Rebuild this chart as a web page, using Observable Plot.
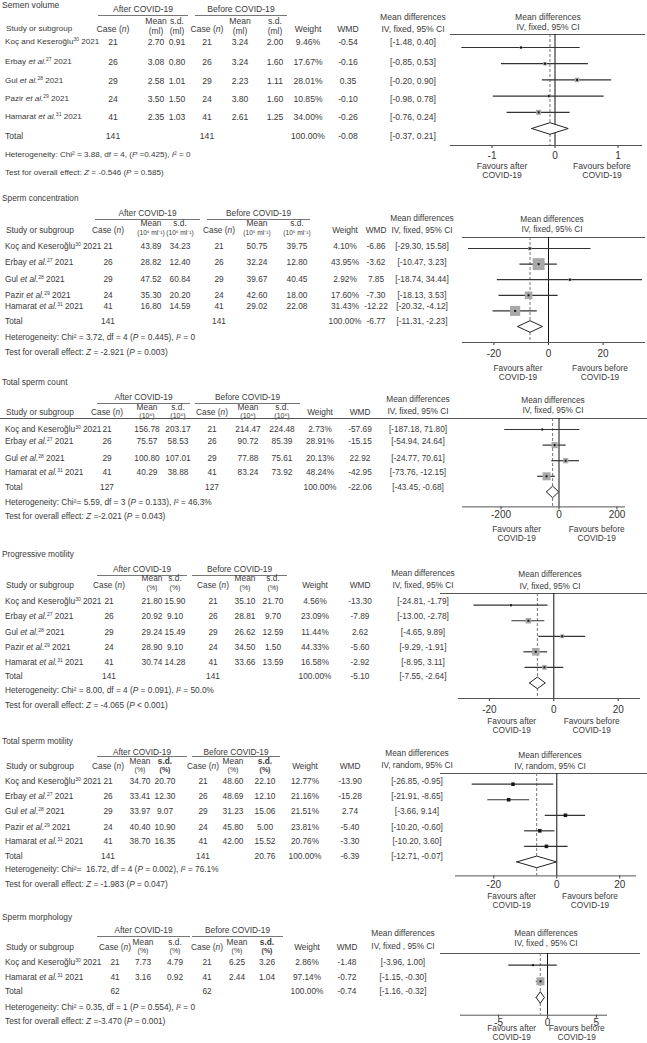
<!DOCTYPE html>
<html><head><meta charset="utf-8">
<script src="https://cdn.jsdelivr.net/npm/d3@7"></script>
<script src="https://cdn.jsdelivr.net/npm/@observablehq/plot@0.6"></script>
<style>
body{margin:0;background:#fff;}
#root{position:relative;width:647px;height:1043px;overflow:hidden;font-family:"Liberation Sans",Arial,sans-serif;font-size:8.3px;color:#3a3a3a;background:#fff;}
.t{position:absolute;white-space:nowrap;line-height:1;}
.hl{position:absolute;height:0;border-top:1px solid #777;}
.sp{font-size:5px;position:relative;top:-3px;}
.pw{position:absolute;left:440px;}
</style></head><body><div id="root"></div>
<script>
// ---------- data ----------
const studyNames = ["Koç and Keseroğlu", "Erbay", "Gul", "Pazir", "Hamarat"];
const studyEtAl = [false, true, true, true, true];
const studyRefs = [30, 27, 28, 29, 31];
const studyYear = 2021;

const sectionTitles = ["Semen volume", "Sperm concentration", "Total sperm count", "Progressive motility", "Total sperm motility", "Sperm morphology"];
const sectionUnits = ["(ml)", "(10⁶ ml⁻¹)", "(10⁶)", "(%)", "(%)", "(%)"];
const sectionMethods = ["IV, fixed, 95% CI", "IV, fixed, 95% CI", "IV, fixed, 95% CI", "IV, fixed, 95% CI", "IV, random, 95% CI", "IV, fixed , 95% CI"];
const heterogeneityText = [
  "Heterogeneity: Chi² = 3.88, df = 4, (<i>P</i> =0.425), <i>I</i>² = 0",
  "Heterogeneity: Chi² = 3.72, df = 4 (<i>P</i> = 0.445), <i>I</i>² = 0",
  "Heterogeneity: Chi²= 5.59, df = 3 (<i>P</i> = 0.133), <i>I</i>² = 46.3%",
  "Heterogeneity: Chi² = 8.00, df = 4 (<i>P</i> = 0.091), <i>I</i>² = 50.0%",
  "Heterogeneity: Chi²= &nbsp;16.72, df = 4 (<i>P</i> = 0.002), <i>I</i>² = 76.1%",
  "Heterogeneity: Chi² = 0.35, df = 1 (<i>P</i> = 0.554), <i>I</i>² = 0"
];
const overallEffectText = [
  "Test for overall effect: <i>Z</i> = -0.546 (<i>P</i> = 0.585)",
  "Test for overall effect: <i>Z</i> = -2.921 (<i>P</i> = 0.003)",
  "Test for overall effect: <i>Z</i> =-2.021 (<i>P</i> = 0.043)",
  "Test for overall effect: <i>Z</i> = -4.065 (<i>P</i> &lt; 0.001)",
  "Test for overall effect: <i>Z</i> = -1.983 (<i>P</i> = 0.047)",
  "Test for overall effect: <i>Z</i> =-3.470 (<i>P</i> = 0.001)"
];
const axisTicks = [[-1, 0, 1], [-20, 0, 20], [-200, 0, 200], [-20, 0, 20], [-20, 0, 20], [-5, 0, 5]];

// 1 Semen volume
const volumeStudies = [0, 1, 2, 3, 4];
const volumeAfter = [[21, 2.70, 0.91], [26, 3.08, 0.80], [29, 2.58, 1.01], [24, 3.50, 1.50], [41, 2.35, 1.03]];
const volumeBefore = [[21, 3.24, 2.00], [26, 3.24, 1.60], [29, 2.23, 1.11], [24, 3.80, 1.60], [41, 2.61, 1.25]];
const volumeWeight = [9.46, 17.67, 28.01, 10.85, 34.00];
const volumeWMD = [-0.54, -0.16, 0.35, -0.10, -0.26];
const volumeCI = [[-1.48, 0.40], [-0.85, 0.53], [-0.20, 0.90], [-0.98, 0.78], [-0.76, 0.24]];
const volumeTotal = [141, 141, -0.08, -0.37, 0.21];

// 2 Sperm concentration
const concStudies = [0, 1, 2, 3, 4];
const concAfter = [[21, 43.89, 34.23], [26, 28.82, 12.40], [29, 47.52, 60.84], [24, 35.30, 20.20], [41, 16.80, 14.59]];
const concBefore = [[21, 50.75, 39.75], [26, 32.24, 12.80], [29, 39.67, 40.45], [24, 42.60, 18.00], [41, 29.02, 22.08]];
const concWeight = [4.10, 43.95, 2.92, 17.60, 31.43];
const concWMD = [-6.86, -3.62, 7.85, -7.30, -12.22];
const concCI = [[-29.30, 15.58], [-10.47, 3.23], [-18.74, 34.44], [-18.13, 3.53], [-20.32, -4.12]];
const concTotal = [141, 141, -6.77, -11.31, -2.23];

// 3 Total sperm count
const countStudies = [0, 1, 2, 4];
const countAfter = [[21, 156.78, 203.17], [26, 75.57, 58.53], [29, 100.80, 107.01], [41, 40.29, 38.88]];
const countBefore = [[21, 214.47, 224.48], [26, 90.72, 85.39], [29, 77.88, 75.61], [41, 83.24, 73.92]];
const countWeight = [2.73, 28.91, 20.13, 48.24];
const countWMD = [-57.69, -15.15, 22.92, -42.95];
const countCI = [[-187.18, 71.80], [-54.94, 24.64], [-24.77, 70.61], [-73.76, -12.15]];
const countTotal = [127, 127, -22.06, -43.45, -0.68];

// 4 Progressive motility
const progStudies = [0, 1, 2, 3, 4];
const progAfter = [[21, 21.80, 15.90], [26, 20.92, 9.10], [29, 29.24, 15.49], [24, 28.90, 9.10], [41, 30.74, 14.28]];
const progBefore = [[21, 35.10, 21.70], [26, 28.81, 9.70], [29, 26.62, 12.59], [24, 34.50, 1.50], [41, 33.66, 13.59]];
const progWeight = [4.56, 23.09, 11.44, 44.33, 16.58];
const progWMD = [-13.30, -7.89, 2.62, -5.60, -2.92];
const progCI = [[-24.81, -1.79], [-13.00, -2.78], [-4.65, 9.89], [-9.29, -1.91], [-8.95, 3.11]];
const progTotal = [141, 141, -5.10, -7.55, -2.64];

// 5 Total sperm motility
const motStudies = [0, 1, 2, 3, 4];
const motAfter = [[21, 34.70, 20.70], [26, 33.41, 12.30], [29, 33.97, 9.07], [24, 40.40, 10.90], [41, 38.70, 16.35]];
const motBefore = [[21, 48.60, 22.10], [26, 48.69, 12.10], [29, 31.23, 15.06], [24, 45.80, 5.00], [41, 42.00, 15.52]];
const motWeight = [12.77, 21.16, 21.51, 23.81, 20.76];
const motWMD = [-13.90, -15.28, 2.74, -5.40, -3.30];
const motCI = [[-26.85, -0.95], [-21.91, -8.65], [-3.66, 9.14], [-10.20, -0.60], [-10.20, 3.60]];
const motTotal = [141, 141, -6.39, -12.71, -0.07];
const motTotalSdBefore = 20.76;

// 6 Sperm morphology
const morphStudies = [0, 4];
const morphAfter = [[21, 7.73, 4.79], [41, 3.16, 0.92]];
const morphBefore = [[21, 6.25, 3.26], [41, 2.44, 1.04]];
const morphWeight = [2.86, 97.14];
const morphWMD = [-1.48, -0.72];
const morphCI = [[-3.96, 1.00], [-1.15, -0.30]];
const morphTotal = [62, 62, -0.74, -1.16, -0.32];

// ---------- layout (page pixels) ----------
const layouts = [
 {font:8.6, nameFont:8.1, unitFont:8.3, titleY:5, groupY:9, groupLineY:15, h1Y:21, h2Y:31, hY:29, mdH1:17, mdH2:29,
  rowsY:[42,62.3,80.7,99,117.3], totalY:135.7, hetY:155, testY:173,
  cols:{caseA:113, meanA:156, sdA:177, caseB:207, meanB:240, sdB:275, weight:308, wmd:348, ci:413},
  grpA:[98,188], grpB:[195,287], topLine:{y:34,x0:450,x1:645}, axis:{y:145,x0:450,x1:642},
  plotRowY:[47,128], zero:554.5, ppu:63, side100:8.6, tp:3.5, sdBold:[false,false],
  mdHead:{x:548,y1:17,y2:27}, fav:{y1:165.5,y2:174.5,xa:502,xb:602}},
 {font:8.3, nameFont:8.3, unitFont:6.6, titleY:198, groupY:213, groupLineY:219, h1Y:223, h2Y:233, hY:230, mdH1:217.7, mdH2:230,
  rowsY:[246,262.3,278.7,295,306], totalY:321.3, hetY:336.7, testY:352.3,
  cols:{caseA:108, meanA:151, sdA:180, caseB:219, meanB:257, sdB:297, weight:345, wmd:376, ci:422},
  grpA:[95,200], grpB:[207,310], topLine:{y:236.7,x0:462,x1:645}, axis:{y:341.7,x0:462,x1:645},
  plotRowY:[247.7,325.7], zero:548, ppu:2.73, side100:18, tp:4, sdBold:[false,false],
  mdHead:{x:552,y1:219.3,y2:229.3}, fav:{y1:368,y2:377,xa:518,xb:600}},
 {font:8.3, nameFont:8.3, unitFont:7, titleY:382.3, groupY:397.3, groupLineY:402.7, h1Y:407, h2Y:415.3, hY:411.7, mdH1:399.3, mdH2:411,
  rowsY:[429,441,458,472], totalY:486.7, hetY:501.7, testY:515.7,
  cols:{caseA:107, meanA:147, sdA:178, caseB:212, meanB:248, sdB:282, weight:320, wmd:360, ci:418},
  grpA:[97,190], grpB:[195,300], topLine:{y:418.3,x0:0,x1:647}, axis:{y:506.7,x0:462,x1:625},
  plotRowY:[429.3,491.7], zero:558.5, ppu:0.29, side100:11.5, tp:0.5, sdBold:[false,false],
  mdHead:{x:553,y1:400.3,y2:410}, fav:{y1:528.5,y2:537.5,xa:516.7,xb:596.7}},
 {font:8.3, nameFont:8.3, unitFont:7, titleY:554, groupY:569, groupLineY:575, h1Y:578.3, h2Y:586.7, hY:585, mdH1:573.3, mdH2:585,
  rowsY:[600.7,616,631.7,646.7,661.7], totalY:675.7, hetY:690, testY:705,
  cols:{caseA:109, meanA:152, sdA:175, caseB:213, meanB:245, sdB:273, weight:315, wmd:360, ci:423},
  grpA:[97,187], grpB:[192,287], topLine:{y:593.3,x0:440,x1:647}, axis:{y:698.3,x0:458,x1:640},
  plotRowY:[605,682.7], zero:553.3, ppu:3.22, side100:11.4, tp:4, sdBold:[false,false],
  mdHead:{x:550,y1:574,y2:585.7}, fav:{y1:720.5,y2:729.5,xa:511.7,xb:591.7}},
 {font:8.3, nameFont:8.3, unitFont:7, titleY:740.7, groupY:751.7, groupLineY:756, h1Y:760.5, h2Y:768.5, hY:766, mdH1:753.3, mdH2:765,
  rowsY:[781,796,811,826.7,841], totalY:855.7, hetY:869.3, testY:884,
  cols:{caseA:108, meanA:140, sdA:165, caseB:203, meanB:233, sdB:265, weight:305, wmd:350, ci:417},
  grpA:[97,187], grpB:[192,280], topLine:{y:773.3,x0:440,x1:647}, axis:{y:875.7,x0:455,x1:636},
  plotRowY:[784,861.7], zero:556.3, ppu:3.15, fixedSide:3.6, tp:2, sdBold:[true,true],
  mdHead:{x:550,y1:755,y2:765.7}, fav:{y1:896,y2:905,xa:511.7,xb:590}},
 {font:8.3, nameFont:8.3, unitFont:7, titleY:917.3, groupY:930, groupLineY:935.7, h1Y:941.7, h2Y:950, hY:946.7, mdH1:933.3, mdH2:946,
  rowsY:[961.7,976.7], totalY:991, hetY:1007.3, testY:1021,
  cols:{caseA:115, meanA:143, sdA:175, caseB:207, meanB:237, sdB:267, weight:307, wmd:347, ci:403},
  grpA:[97,190], grpB:[192,283], topLine:{y:953.3,x0:440,x1:640}, axis:{y:1015,x0:460,x1:607},
  plotRowY:[965,997.3], zero:547, ppu:9.77, side100:8.1, tp:0.5, sdBold:[false,true],
  mdHead:{x:546,y1:933.3,y2:943.3}, fav:{y1:1028,y2:1037,xa:511.7,xb:576.7}}
];

const sections = [
  {studies: volumeStudies, after: volumeAfter, before: volumeBefore, weight: volumeWeight, wmd: volumeWMD, ci: volumeCI, total: volumeTotal},
  {studies: concStudies, after: concAfter, before: concBefore, weight: concWeight, wmd: concWMD, ci: concCI, total: concTotal},
  {studies: countStudies, after: countAfter, before: countBefore, weight: countWeight, wmd: countWMD, ci: countCI, total: countTotal},
  {studies: progStudies, after: progAfter, before: progBefore, weight: progWeight, wmd: progWMD, ci: progCI, total: progTotal},
  {studies: motStudies, after: motAfter, before: motBefore, weight: motWeight, wmd: motWMD, ci: motCI, total: motTotal, random: true, totalSdBefore: motTotalSdBefore},
  {studies: morphStudies, after: morphAfter, before: morphBefore, weight: morphWeight, wmd: morphWMD, ci: morphCI, total: morphTotal}
];

// ---------- helpers ----------
const root = document.getElementById("root");
let curFont = 8.3;
function txt(x, y, html, align = "c", extra = "") {
  const d = document.createElement("div");
  d.className = "t";
  d.style.left = x + "px";
  d.style.top = y + "px";
  d.style.fontSize = curFont + "px";
  d.style.transform = align === "c" ? "translate(-50%,-50%)" : align === "l" ? "translate(0,-50%)" : "translate(-100%,-50%)";
  if (extra) d.style.cssText += extra;
  d.innerHTML = html;
  root.appendChild(d);
}
function hline(x0, x1, y, color = "#777") {
  const d = document.createElement("div");
  d.className = "hl";
  d.style.left = x0 + "px";
  d.style.width = (x1 - x0) + "px";
  d.style.top = Math.round(y) + "px";
  d.style.borderTopColor = color;
  root.appendChild(d);
}
const f2 = v => v.toFixed(2);
function studyLabel(i) {
  return studyNames[i] + (studyEtAl[i] ? " <i>et al.</i>" : "") + `<span class="sp">${studyRefs[i]}</span> ${studyYear}`;
}

function forest(S, L, k) {
  const n = S.wmd.length;
  const rows = S.wmd.map((e, i) => ({i, e, lo: S.ci[i][0], hi: S.ci[i][1], w: S.weight[i]}));
  const tot = {e: S.total[2], lo: S.total[3], hi: S.total[4]};
  const svgTop = L.topLine.y;
  const axisOff = L.axis.y - svgTop;
  const height = Math.ceil(axisOff + 20);
  const ml = L.axis.x0 - 440, mr = 647 - L.axis.x1;
  const xd = [(L.axis.x0 - L.zero) / L.ppu, (L.axis.x1 - L.zero) / L.ppu];
  const yr = [L.plotRowY[0] - svgTop, L.plotRowY[1] - svgTop];
  const sp = (yr[1] - yr[0]) / n;
  const hd = 5.8 / sp;
  const axisVal = n + (axisOff - yr[1]) / sp;
  const diamond = [{x: tot.lo, y: n}, {x: tot.e, y: n - hd}, {x: tot.hi, y: n}, {x: tot.e, y: n + hd}, {x: tot.lo, y: n}];
  const marks = [
    Plot.ruleX([tot.e], {stroke: "#666", strokeWidth: 0.9, strokeDasharray: "3,2"}),
    Plot.ruleX([0], {stroke: "#111", strokeWidth: 1}),
    Plot.ruleY([axisVal], {stroke: "#555", strokeWidth: 1}),
    Plot.ruleY(rows, {y: "i", x1: "lo", x2: "hi", stroke: "#333", strokeWidth: 1.2}),
    S.random
      ? Plot.dot(rows, {x: "e", y: "i", r: L.fixedSide / 1.7725, symbol: "square", fill: "#222"})
      : Plot.dot(rows, {x: "e", y: "i", r: "w", symbol: "square", fill: "#a8a8a8"}),
    Plot.dot(rows, {x: "e", y: "i", r: 1.1, symbol: "square", fill: "#111"}),
    Plot.line(diamond, {x: "x", y: "y", fill: "white", stroke: "#222", strokeWidth: 1, curve: "linear"})
  ];
  const opts = {
    width: 207, height,
    marginTop: 0, marginBottom: height - axisOff, marginLeft: ml, marginRight: mr,
    x: {domain: xd, ticks: axisTicks[k], tickSize: 3, tickPadding: L.tp, tickFormat: d => String(d), label: null},
    y: {domain: [0, n], range: yr, axis: null},
    style: {fontFamily: "Liberation Sans, Arial, sans-serif", fontSize: "10px", color: "#333", background: "transparent", overflow: "visible"},
    marks
  };
  if (!S.random) opts.r = {type: "sqrt", domain: [0, 100], range: [0, L.side100 / 1.7725]};
  const svg = Plot.plot(opts);
  const w = document.createElement("div");
  w.className = "pw";
  w.style.top = svgTop + "px";
  w.appendChild(svg);
  root.appendChild(w);
}

// ---------- render ----------
sections.forEach((S, k) => {
  const L = layouts[k], C = L.cols;
  curFont = L.font;
  txt(2, L.titleY, sectionTitles[k], "l");
  txt((L.grpA[0] + L.grpA[1]) / 2, L.groupY, "After COVID-19");
  txt((L.grpB[0] + L.grpB[1]) / 2, L.groupY, "Before COVID-19");
  hline(L.grpA[0], L.grpA[1], L.groupLineY);
  hline(L.grpB[0], L.grpB[1], L.groupLineY);
  txt(6, L.hY, "Study or subgroup", "l", `font-size:${L.nameFont}px;`);
  txt(C.caseA, L.hY, "Case (<i>n</i>)");
  txt(C.caseB, L.hY, "Case (<i>n</i>)");
  const uf = `font-size:${L.unitFont}px;`;
  txt(C.meanA, L.h1Y, "Mean"); txt(C.meanA, L.h2Y, sectionUnits[k], "c", uf);
  txt(C.meanB, L.h1Y, "Mean"); txt(C.meanB, L.h2Y, sectionUnits[k], "c", uf);
  const sdA = L.sdBold[0] ? "font-weight:bold;" : "", sdB = L.sdBold[1] ? "font-weight:bold;" : "";
  txt(C.sdA, L.h1Y, "s.d.", "c", sdA); txt(C.sdA, L.h2Y, sectionUnits[k], "c", sdA + uf);
  txt(C.sdB, L.h1Y, "s.d.", "c", sdB); txt(C.sdB, L.h2Y, sectionUnits[k], "c", sdB + uf);
  txt(C.weight, L.hY, "Weight");
  txt(C.wmd, L.hY, "WMD");
  txt(C.ci, L.mdH1, "Mean differences");
  txt(C.ci, L.mdH2, sectionMethods[k]);
  S.studies.forEach((s, i) => {
    const y = L.rowsY[i];
    txt(5, y, studyLabel(s), "l", `font-size:${L.nameFont}px;`);
    txt(C.caseA, y, S.after[i][0]);
    txt(C.meanA, y, f2(S.after[i][1]));
    txt(C.sdA, y, f2(S.after[i][2]));
    txt(C.caseB, y, S.before[i][0]);
    txt(C.meanB, y, f2(S.before[i][1]));
    txt(C.sdB, y, f2(S.before[i][2]));
    txt(C.weight, y, f2(S.weight[i]) + "%");
    txt(C.wmd, y, f2(S.wmd[i]));
    txt(C.ci, y, `[${f2(S.ci[i][0])}, ${f2(S.ci[i][1])}]`);
  });
  const ty = L.totalY;
  txt(5, ty, "Total", "l");
  txt(C.caseA, ty, S.total[0]);
  txt(C.caseB, ty, S.total[1]);
  if (S.totalSdBefore != null) txt(C.sdB, ty, f2(S.totalSdBefore));
  txt(C.weight, ty, "100.00%");
  txt(C.wmd, ty, f2(S.total[2]));
  txt(C.ci, ty, `[${f2(S.total[3])}, ${f2(S.total[4])}]`);
  txt(5, L.hetY, heterogeneityText[k], "l", `font-size:${L.nameFont}px;`);
  txt(5, L.testY, overallEffectText[k], "l", `font-size:${L.nameFont}px;`);
  // plot header & labels
  txt(L.mdHead.x, L.mdHead.y1, "Mean differences");
  txt(L.mdHead.x, L.mdHead.y2, sectionMethods[k]);
  hline(L.topLine.x0, L.topLine.x1, L.topLine.y, "#555");
  forest(S, L, k);
  txt(L.fav.xa, L.fav.y1, "Favours after");
  txt(L.fav.xa, L.fav.y2, "COVID-19");
  txt(L.fav.xb, L.fav.y1, "Favours before");
  txt(L.fav.xb, L.fav.y2, "COVID-19");
});
</script></body></html>
